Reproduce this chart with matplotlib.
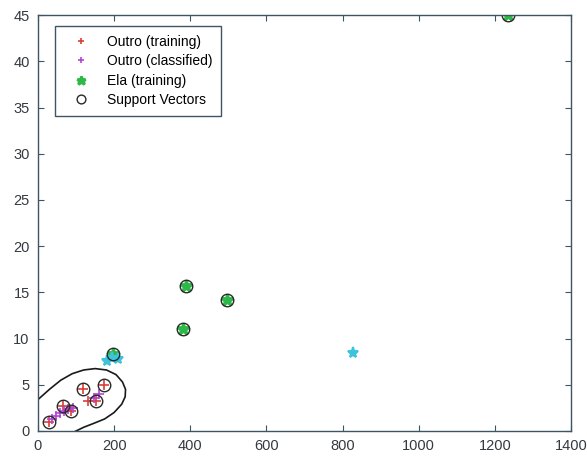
import numpy as np
import matplotlib
matplotlib.use("Agg")
import matplotlib.pyplot as plt

AXCOLOR = "#3e5663"
RED = "#d8403a"
PURPLE = "#b345d6"
GREEN = "#2fb84a"
CYAN = "#3cc4dc"

# Outro (training)
outro_train_x = [30, 66, 88, 119, 132, 152, 174]
outro_train_y = [1.0, 2.7, 2.2, 4.5, 3.2, 3.2, 5.0]

# Outro (classified)
outro_cls_x = [38, 48, 58, 68, 78, 92, 148, 160]
outro_cls_y = [1.3, 1.6, 1.9, 2.2, 2.4, 2.5, 3.6, 4.0]

# Ela (training)
ela_train_x = [197, 381, 389, 496, 1235]
ela_train_y = [8.3, 11.0, 15.7, 14.2, 45.0]

# Ela (classified) - no legend entry
ela_cls_x = [180, 195, 210, 827]
ela_cls_y = [7.6, 7.9, 7.8, 8.4]

# support vectors
sv_x = [30, 66, 88, 119, 152, 174, 197, 381, 389, 496, 1235]
sv_y = [1.0, 2.7, 2.2, 4.5, 3.2, 5.0, 8.3, 11.0, 15.7, 14.2, 45.0]

# decision boundary
bound_x = [-30, 0, 30, 60, 90, 120, 150, 180, 205, 222, 230, 229, 220, 200, 175, 145, 120, 100, 60, 0, -30]
bound_y = [2.2, 3.4, 4.5, 5.5, 6.2, 6.6, 6.75, 6.6, 6.1, 5.3, 4.5, 3.7, 2.9, 2.0, 1.3, 0.8, 0.4, 0.0, -0.8, -1.0, 2.2]


def plot():
    plt.rcParams["font.family"] = ["Liberation Sans", "DejaVu Sans"]
    plt.rcParams["font.size"] = 10.5

    fig = plt.figure(figsize=(5.87, 4.58), dpi=100)
    ax = fig.add_axes([0.0647, 0.059, 0.908, 0.908])

    ax.plot(outro_train_x, outro_train_y, "+", color=RED, ms=7, mew=1.2,
            label="Outro (training)")
    ax.plot(outro_cls_x, outro_cls_y, "+", color=PURPLE, ms=7, mew=1.2,
            label="Outro (classified)")
    ax.plot(ela_train_x, ela_train_y, "*", color=GREEN, ms=9, mew=2.0,
            label="Ela (training)")
    ax.plot(ela_cls_x, ela_cls_y, "*", color=CYAN, ms=8, mew=1.5)
    ax.plot(sv_x, sv_y, "o", mfc="none", mec="#2a2a2a", ms=9, mew=1.0,
            label="Support Vectors")
    ax.plot(bound_x, bound_y, "-", color="#1a1a1a", lw=1.2)

    ax.set_xlim(0, 1400)
    ax.set_ylim(0, 45)
    ax.set_xticks(np.arange(0, 1401, 200))
    ax.set_yticks(np.arange(0, 46, 5))
    ax.tick_params(direction="in", top=True, right=True, colors=AXCOLOR,
                   length=4, labelcolor="#333a40", pad=6)
    for s in ax.spines.values():
        s.set_color(AXCOLOR)
        s.set_linewidth(1.0)

    leg = ax.legend(loc="upper left", bbox_to_anchor=(0.018, 0.99),
                    fancybox=False, framealpha=1, edgecolor=AXCOLOR,
                    handlelength=2.6, handletextpad=0.6, borderpad=0.6,
                    labelspacing=0.4, fontsize=10, markerscale=0.7)
    leg.get_frame().set_linewidth(1.0)

    fig.savefig("out.png", dpi=100)
    plt.close()


if __name__ == "__main__":
    plot()
